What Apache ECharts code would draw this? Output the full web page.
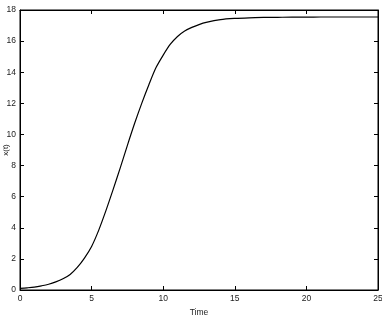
<!DOCTYPE html>
<html><head><meta charset="utf-8">
<script src="https://cdn.jsdelivr.net/npm/echarts@6/dist/echarts.min.js"></script>
<style>html,body{margin:0;padding:0;background:#fff}#c{width:382px;height:320px}</style>
</head><body><div id="c"></div>
<script>
var times = [0,0.5,1,1.5,2,2.5,3,3.5,4,4.5,5,5.5,6,6.5,7,7.5,8,8.5,9,9.5,10,10.5,11,11.5,12,12.5,13,14,15,16,17,18,19,20,21,22,23,24,25];
var xValues = [0.10,0.14,0.19,0.27,0.37,0.52,0.72,1.00,1.45,2.05,2.80,3.85,5.10,6.45,7.85,9.30,10.70,12.00,13.20,14.30,15.10,15.80,16.30,16.65,16.88,17.06,17.20,17.38,17.46,17.50,17.52,17.53,17.54,17.54,17.55,17.55,17.55,17.55,17.55];
var xTicks = [0,5,10,15,20,25];
var yTicks = [0,2,4,6,8,10,12,14,16,18];
var xTitle = 'Time';
var yTitle = 'x(t)';

var font = 'Liberation Sans, Arial, sans-serif';
var data = times.map(function(t,i){return [t,xValues[i]];});
function axisBase(showLabel){
  return {
    axisLine:{show:true,onZero:false,lineStyle:{color:'#000',width:1}},
    axisTick:{show:true,inside:true,length:4,lineStyle:{color:'#000',width:1}},
    axisLabel:{show:showLabel,color:'#222',fontSize:8.5,fontFamily:font,margin:4},
    splitLine:{show:false}
  };
}
var chart = echarts.init(document.getElementById('c'));
chart.setOption({
  animation:false,
  backgroundColor:'#fff',
  grid:{left:20,right:4,top:10,bottom:30,containLabel:false,outerBoundsMode:'none',show:true,borderColor:'#000',borderWidth:1,backgroundColor:'transparent'},
  graphic:[{type:'text',x:6,y:150,rotation:Math.PI/2,
    style:{text:yTitle,fontSize:8,fill:'#222',fontFamily:font,align:'center',verticalAlign:'middle'}}],
  xAxis:[
    Object.assign({type:'value',min:xTicks[0],max:xTicks[xTicks.length-1],interval:5,position:'bottom',
      name:xTitle,nameLocation:'middle',nameGap:5,nameTextStyle:{fontSize:8.5,color:'#222',fontFamily:font}},axisBase(true)),
    Object.assign({type:'value',min:xTicks[0],max:xTicks[xTicks.length-1],interval:5,position:'top'},axisBase(false))
  ],
  yAxis:[
    Object.assign({type:'value',min:yTicks[0],max:yTicks[yTicks.length-1],interval:2,position:'left'},axisBase(true)),
    Object.assign({type:'value',min:yTicks[0],max:yTicks[yTicks.length-1],interval:2,position:'right'},axisBase(false))
  ],
  series:[
    {type:'line',data:data,smooth:0.3,showSymbol:false,lineStyle:{color:'#000',width:1.2}}
  ]
});
</script></body></html>
